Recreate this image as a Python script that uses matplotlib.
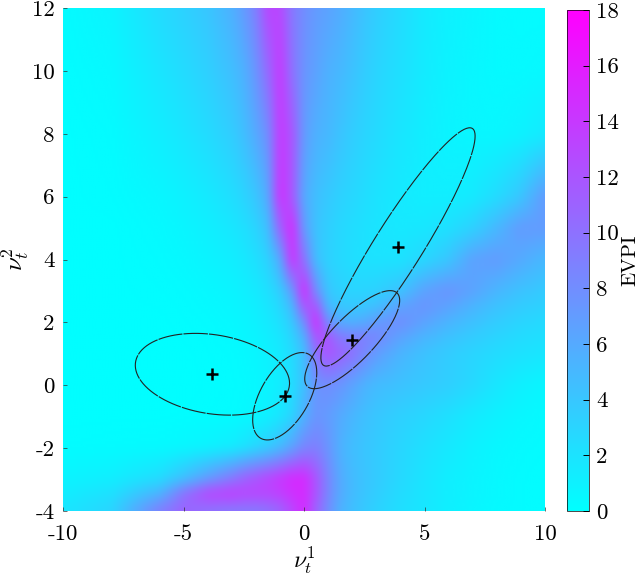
import matplotlib
matplotlib.use("Agg")
import matplotlib.pyplot as plt
import numpy as np

plt.rcParams['font.family'] = ['cmr10', 'DejaVu Serif']
plt.rcParams['mathtext.fontset'] = 'cm'
plt.rcParams['axes.unicode_minus'] = False
plt.rcParams['axes.formatter.use_mathtext'] = True

# EVPI, one row per nu2 value, one column per nu1 value
nu1_grid = [-10, -8, -6, -5, -4, -3, -2.5, -2, -1.5, -1, -.5, 0, .5, 1, 1.5, 2, 2.5, 3, 4, 5, 6, 7, 8, 9, 10]
nu2_grid = [12, 10, 8, 6, 5, 4, 3, 2.5, 2, 1.5, 1, 0, -1, -2, -3, -3.5, -4]
evpi = [
    [.3, .8, 2.5, 3.2, 4, 5.5, 7, 9, 13, 13, 9.5, 8, 7, 6.5, 5.8, 5, 4.2, 3.5, 2.5, 1.5, 1, .7, .4, .3, .3],
    [.2, .5, 1.8, 2.5, 3.3, 4.5, 5.5, 7.5, 10.5, 14, 10, 7.5, 6.5, 5.5, 5, 4.3, 3.6, 3, 2.2, 1.4, .9, .6, .4, .4, .5],
    [.1, .3, 1.2, 1.8, 2.5, 3.5, 4.5, 6, 8, 14, 12, 7, 5.5, 5, 4.2, 3.5, 3, 2.6, 1.8, 1.2, .8, .6, .6, .9, 1.5],
    [.1, .2, .6, 1, 1.5, 2.3, 3, 4, 6, 14.5, 12, 6, 4.5, 3.8, 3.2, 2.8, 2.4, 2, 1.5, 1.2, 1.2, 1.5, 2.5, 4, 7],
    [.1, .1, .4, .7, 1.1, 1.7, 2.2, 3, 4.5, 11, 15, 7, 4.2, 3.4, 2.8, 2.4, 2.1, 1.9, 1.6, 1.7, 2.2, 3.2, 5, 7, 7],
    [.1, .1, .3, .5, .8, 1.2, 1.6, 2.2, 3.2, 6, 14.5, 10, 4.5, 3.2, 2.7, 2.3, 2.1, 2, 2, 2.8, 4, 6.5, 7, 6, 5],
    [.1, .1, .2, .3, .5, .8, 1.1, 1.5, 2.2, 3.5, 7, 15, 8, 4, 3.2, 3, 3, 3.2, 4.2, 6.5, 7.5, 6.5, 5.2, 4.3, 3.7],
    [.1, .1, .15, .25, .4, .65, .9, 1.2, 1.8, 2.8, 5, 12, 12, 5, 4, 3.8, 4, 4.5, 6.5, 7.5, 6.5, 5.3, 4.3, 3.6, 3.2],
    [.1, .1, .1, .2, .3, .5, .7, 1, 1.5, 2.2, 3.8, 8, 15, 8, 6, 5.5, 6, 7, 8, 6.5, 5.3, 4.4, 3.6, 3, 2.6],
    [.1, .1, .1, .15, .25, .4, .6, .8, 1.2, 1.8, 3, 5.5, 12, 12, 9.5, 9, 9, 8.5, 6.5, 5.2, 4.3, 3.6, 3, 2.5, 2.2],
    [.1, .1, .1, .1, .2, .3, .45, .65, 1, 1.5, 2.5, 4.5, 10, 12, 11, 10, 8.5, 7, 5.3, 4.3, 3.6, 3, 2.5, 2.1, 1.8],
    [.1, .1, .1, .1, .15, .25, .35, .5, .8, 1.3, 2.3, 4.5, 7.5, 8, 7.5, 6.5, 5.5, 4.8, 4.3, 3.8, 3.4, 2.7, 1.8, 1.1, .7],
    [.1, .1, .1, .15, .2, .3, .45, .7, 1.1, 1.8, 3, 5.5, 7.5, 7, 6, 5.2, 4.5, 4, 3.3, 2.8, 2.2, 1.5, 1, .6, .4],
    [.2, .3, .4, .6, .9, 1.4, 2, 2.8, 3.6, 4.8, 6.5, 8.5, 9, 7.5, 5.5, 4.6, 4.1, 3.7, 2.9, 2.2, 1.6, 1, .6, .4, .3],
    [.8, 1.2, 2.5, 4.5, 7, 9.5, 11, 12, 13, 14, 15, 15, 12, 8.5, 6, 4.8, 4.2, 3.7, 2.7, 1.9, 1.2, .8, .5, .3, .2],
    [1.3, 2.2, 5.5, 10, 13, 13.5, 13, 13, 13, 13.5, 14.5, 15, 12, 8.5, 6, 4.8, 4.1, 3.5, 2.5, 1.8, 1.2, .8, .5, .3, .2],
    [1.8, 3, 9, 11, 10, 9.5, 9.5, 9.5, 10, 11, 13, 15, 11, 8, 5.5, 4.5, 3.8, 3.2, 2.3, 1.7, 1.1, .7, .4, .3, .2],
]

# mixture components, mean and spread
means_x = [-3.8, -0.8, 2.0, 3.9]
means_y = [0.35, -0.35, 1.45, 4.4]
sd_x = [3.2, 1.33, 1.97, 3.2]
sd_y = [1.3, 1.39, 1.56, 3.79]
rho = [-0.22, 0.54, 0.8, 0.93]

x_ticks = [-10, -5, 0, 5, 10]
y_ticks = [-4, -2, 0, 2, 4, 6, 8, 10, 12]
cbar_ticks = [0, 2, 4, 6, 8, 10, 12, 14, 16, 18]

fig = plt.figure(figsize=(6.4, 5.79), dpi=100)
ax = fig.add_axes([63 / 640, 1 - 511 / 579, 482 / 640, 503 / 579])
cax = fig.add_axes([567 / 640, 1 - 511 / 579, 22 / 640, 501 / 579])

# the knots are uneven, so put them on an even fine grid before drawing
fine_x = np.linspace(-10, 10, 201)
fine_y = np.linspace(12, -4, 161)
table = np.array(evpi)
by_col = np.array([np.interp(fine_x, nu1_grid, row) for row in table])
field = np.array([np.interp(-fine_y, -np.array(nu2_grid), by_col[:, j]) for j in range(len(fine_x))]).T

# light blur takes the kinks out of the linear resampling
kernel = np.hanning(9)
kernel = kernel / kernel.sum()
padded = np.pad(field, 4, mode='edge')
padded = np.apply_along_axis(lambda r: np.convolve(r, kernel, mode='same'), 1, padded)
padded = np.apply_along_axis(lambda c: np.convolve(c, kernel, mode='same'), 0, padded)
field = padded[4:-4, 4:-4]

im = ax.imshow(field, extent=[-10, 10, -4, 12], cmap='cool', vmin=0, vmax=18, aspect='auto', interpolation='bilinear')

# 1-sigma outlines
t = np.linspace(0, 2 * np.pi, 200)
for i in range(len(means_x)):
    ex = means_x[i] + sd_x[i] * np.cos(t)
    ey = means_y[i] + sd_y[i] * (rho[i] * np.cos(t) + np.sqrt(1 - rho[i] ** 2) * np.sin(t))
    ax.plot(ex, ey, color='#222222', lw=0.8, dashes=(22, 1))

ax.plot(means_x, means_y, '+', color='k', ms=8, mew=1.8, ls='none')

ax.set_xlim(-10, 10)
ax.set_ylim(-4, 12)
ax.set_xticks(x_ticks)
ax.set_xticklabels([str(v) for v in x_ticks])
ax.set_yticks(y_ticks)
ax.set_yticklabels([str(v) for v in y_ticks])
ax.tick_params(direction='in', length=3, width=0.5, labelsize=16.5, color='#333333', pad=10)
ax.tick_params(axis='y', pad=6)
for s in ax.spines.values():
    s.set_visible(False)
ax.set_xlabel(r'$\nu_t^1$', fontsize=17, labelpad=0)
ax.set_ylabel(r'$\nu_t^2$', fontsize=18, labelpad=0)

cb = fig.colorbar(im, cax=cax)
cb.set_ticks(cbar_ticks)
cb.set_ticklabels([str(v) for v in cbar_ticks])
cb.ax.tick_params(direction='in', length=4, width=0.7, labelsize=16.5, pad=5)
cb.outline.set_linewidth(0.5)
cb.set_label('EVPI', fontsize=15, labelpad=2)

fig.savefig('out.png', dpi=100)
